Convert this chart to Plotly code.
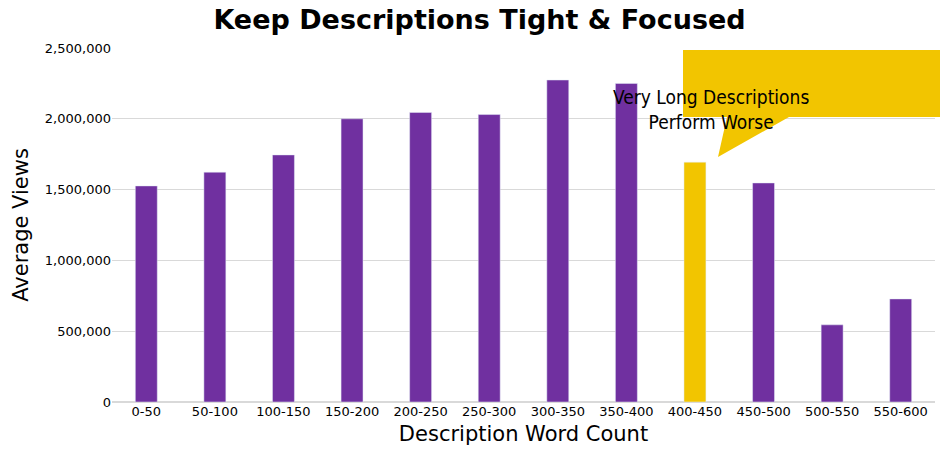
import plotly.graph_objects as go

categories = ["0-50","50-100","100-150","150-200","200-250","250-300","300-350","350-400","400-450","450-500","500-550","550-600"]
views = [1526000,1623000,1745000,2000000,2045000,2030000,2274000,2250000,1694000,1547000,545000,728000]
highlight = "400-450"

colors = ["#F2C500" if c == highlight else "#7030A0" for c in categories]

fig = go.Figure(go.Bar(x=categories, y=views, marker_color=colors, width=0.32))

O = 8  # page body offset
W, H = 951 - O, 471 - O
L, R, T, B = 112 - O, 16, 48 - O, 69
pw, ph = W - L - R, H - T - B
def px(x): return (x - O - L) / pw
def py(y): return (H - B - (y - O)) / ph

path = (f"M {px(683)} {py(50)} L {px(940)} {py(50)} L {px(940)} {py(117)} "
        f"L {px(789)} {py(117)} L {px(718)} {py(157)} L {px(727)} {py(117)} "
        f"L {px(683)} {py(117)} Z")
fig.add_shape(type="path", path=path, xref="paper", yref="paper",
              fillcolor="#F2C500", line=dict(width=0))
fig.add_annotation(x=px(811), y=py(84), xref="paper", yref="paper", showarrow=False,
                   text="Very Long Descriptions<br>Perform Worse",
                   font=dict(family="DejaVu Sans Condensed, DejaVu Sans", size=19, color="black"))

fig.update_layout(
    width=W, height=H, margin=dict(l=L, r=R, t=T, b=B),
    paper_bgcolor="white", plot_bgcolor="white",
    title=dict(text="<b>Keep Descriptions Tight &amp; Focused</b>", x=0.5, xanchor="center",
               y=0.995, yanchor="top", font=dict(family="DejaVu Sans", size=27, color="black")),
    showlegend=False,
    xaxis=dict(title=dict(text="Description Word Count", font=dict(family="DejaVu Sans", size=21, color="black"), standoff=8),
               tickfont=dict(family="DejaVu Sans", size=13, color="black"), showline=False, ticks=""),
    yaxis=dict(title=dict(text="Average Views", font=dict(family="DejaVu Sans", size=21, color="black"), standoff=10),
               range=[0, 2500000], dtick=500000, tickformat=",",
               tickfont=dict(family="DejaVu Sans", size=13, color="black"),
               gridcolor="#D9D9D9", zeroline=True, zerolinecolor="#D9D9D9"),
)
fig.write_html("out.html")
